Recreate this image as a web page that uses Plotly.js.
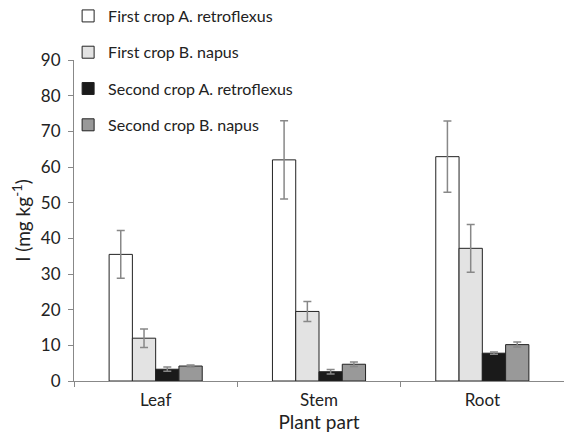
<!DOCTYPE html>
<html>
<head>
<meta charset="utf-8">
<script src="https://cdn.plot.ly/plotly-3.0.1.min.js"></script>
<style>html,body{margin:0;padding:0;background:#fff;}#chart{width:564px;height:436px;}</style>
</head>
<body>
<div id="chart"></div>
<script>
const categories = ["Leaf", "Stem", "Root"];
const seriesNames = ["First crop A. retroflexus", "First crop B. napus", "Second crop A. retroflexus", "Second crop B. napus"];
const firstRetro = [35.5, 62.0, 62.9];
const firstRetroErr = [6.7, 11.0, 10.0];
const firstNapus = [12.0, 19.5, 37.2];
const firstNapusErr = [2.6, 2.8, 6.7];
const secondRetro = [3.3, 2.6, 7.8];
const secondRetroErr = [0.6, 0.65, 0.3];
const secondNapus = [4.2, 4.7, 10.2];
const secondNapusErr = [0.3, 0.6, 0.7];
const yTicks = [0, 10, 20, 30, 40, 50, 60, 70, 80, 90];

const colors = ["#ffffff", "#e3e3e3", "#1a1a1a", "#999999"];
const values = [firstRetro, firstNapus, secondRetro, secondNapus];
const errs = [firstRetroErr, firstNapusErr, secondRetroErr, secondNapusErr];
const font = "Lato, 'Open Sans', sans-serif";

const traces = values.map((v, i) => ({
  type: "bar",
  name: seriesNames[i],
  x: categories,
  y: v,
  legendgroup: "g" + i,
  marker: {color: colors[i], line: {color: "#222", width: 1}},
  error_y: {type: "data", array: errs[i], visible: true, color: "#888888", thickness: 1.5, width: 4}
}));

const layout = {
  width: 564, height: 436,
  margin: {l: 74, r: 0, t: 60, b: 55, autoexpand: false},
  paper_bgcolor: "#fff", plot_bgcolor: "#fff",
  barmode: "group",
  bargap: 0.43,
  bargroupgap: 0,
  font: {family: font, color: "#222"},
  showlegend: true,
  legend: {
    x: -0.012, y: 1.19, xref: "paper", yref: "paper",
    xanchor: "left", yanchor: "top",
    font: {family: font, size: 16, color: "#222"},
    traceorder: "grouped",
    tracegroupgap: 12.5,
    bgcolor: "rgba(0,0,0,0)"
  },
  xaxis: {
    range: [-0.5, 2.5],
    tickson: "boundaries",
    ticks: "outside", ticklen: 5, tickcolor: "#888",
    showline: true, linecolor: "#888", linewidth: 1,
    showgrid: false, zeroline: false,
    ticklabelstandoff: 4,
    tickfont: {family: font, size: 17, color: "#222"},
    title: {text: "Plant part", font: {family: font, size: 19, color: "#222"}, standoff: 5}
  },
  yaxis: {
    range: [0, 90],
    tickvals: yTicks,
    ticks: "outside", ticklen: 5, tickcolor: "#888",
    showline: true, linecolor: "#888", linewidth: 1,
    showgrid: false, zeroline: false,
    ticklabelstandoff: 4,
    tickfont: {family: font, size: 17, color: "#222"},
    title: {text: "I (mg kg<sup>-1</sup>)", font: {family: font, size: 19, color: "#222"}, standoff: 5}
  }
};

Plotly.newPlot("chart", traces, layout, {displayModeBar: false, staticPlot: true});
</script>
</body>
</html>
